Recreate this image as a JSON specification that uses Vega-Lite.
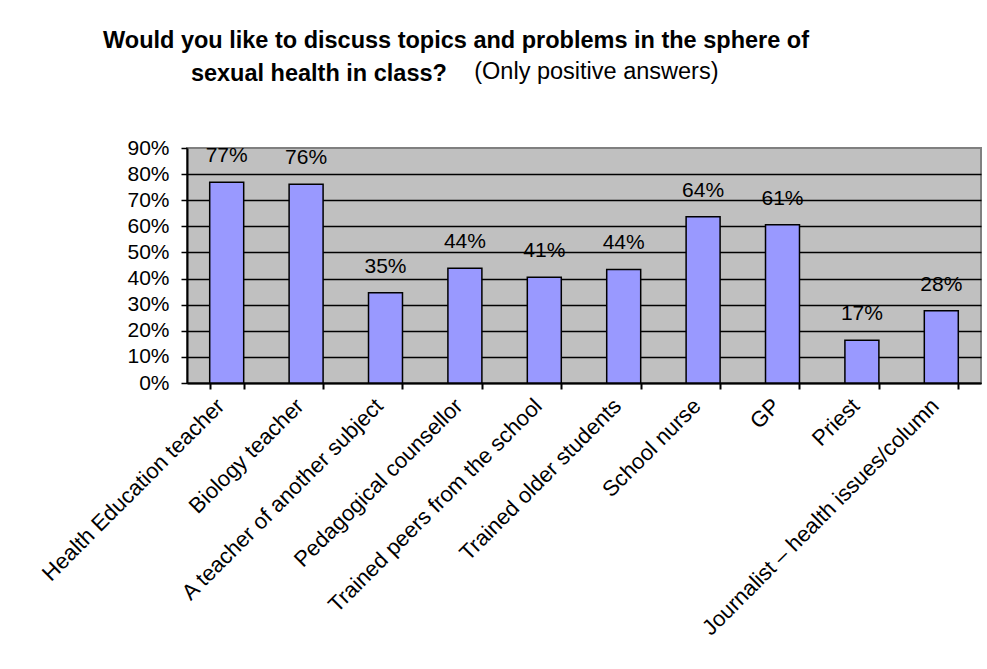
{
  "$schema": "https://vega.github.io/schema/vega-lite/v6.json",
  "width": 794,
  "height": 235,
  "autosize": {"type": "none"},
  "padding": {"left": 187, "top": 148, "right": 6, "bottom": 286},
  "background": "white",
  "title": {
    "text": ["Would you like to discuss topics and problems in the sphere of", "sexual health in class?\u00a0\u00a0\u00a0\u00a0\u00a0\u00a0\u00a0\u00a0\u00a0\u00a0\u00a0\u00a0\u00a0\u00a0\u00a0\u00a0\u00a0\u00a0\u00a0\u00a0\u00a0\u00a0\u00a0\u00a0\u00a0\u00a0\u00a0\u00a0\u00a0\u00a0\u00a0\u00a0\u00a0\u00a0\u00a0\u00a0\u00a0\u00a0\u00a0\u00a0\u00a0\u00a0\u200b"],
    "subtitle": "\u200b\u00a0\u00a0\u00a0\u00a0\u00a0\u00a0\u00a0\u00a0\u00a0\u00a0\u00a0\u00a0\u00a0\u00a0\u00a0\u00a0\u00a0\u00a0\u00a0\u00a0\u00a0\u00a0\u00a0\u00a0\u00a0\u00a0\u00a0\u00a0\u00a0\u00a0\u00a0\u00a0\u00a0\u00a0\u00a0\u00a0\u00a0\u00a0\u00a0\u00a0\u00a0\u00a0\u00a0(Only positive answers)",
    "anchor": "middle",
    "frame": "group",
    "dx": -128,
    "offset": 52,
    "font": "Liberation Sans",
    "fontSize": 23.5,
    "fontWeight": "bold",
    "color": "black",
    "lineHeight": 33,
    "subtitleFont": "Liberation Sans",
    "subtitleFontSize": 23.5,
    "subtitleFontWeight": "normal",
    "subtitleColor": "black",
    "subtitlePadding": -25
  },
  "data": {
    "values": [
      {"role": "Health Education teacher", "value": 0.769, "label": "77%"},
      {"role": "Biology teacher", "value": 0.761, "label": "76%"},
      {"role": "A teacher of another subject", "value": 0.346, "label": "35%"},
      {"role": "Pedagogical counsellor", "value": 0.439, "label": "44%"},
      {"role": "Trained peers from the school", "value": 0.405, "label": "41%"},
      {"role": "Trained older students", "value": 0.435, "label": "44%"},
      {"role": "School nurse", "value": 0.637, "label": "64%"},
      {"role": "GP", "value": 0.606, "label": "61%"},
      {"role": "Priest", "value": 0.164, "label": "17%"},
      {"role": "Journalist – health issues/column", "value": 0.277, "label": "28%"}
    ]
  },
  "encoding": {
    "y": {
      "field": "value",
      "type": "quantitative",
      "scale": {"domain": [0, 0.9], "nice": false, "zero": true},
      "axis": {
        "title": null,
        "values": [0, 0.1, 0.2, 0.3, 0.4, 0.5, 0.6, 0.7, 0.8, 0.9],
        "format": ".0%",
        "labelFont": "Liberation Sans",
        "labelFontSize": 21,
        "labelColor": "black",
        "labelPadding": 12,
        "tickSize": 6,
        "tickColor": "black",
        "tickWidth": 1.5,
        "domainColor": "black",
        "domainWidth": 2,
        "grid": true,
        "gridColor": {"condition": {"test": "datum.value >= 0.85", "value": "transparent"}, "value": "black"},
        "gridWidth": 1.5,
        "gridOpacity": 1
      }
    }
  },
  "layer": [
    {
      "mark": {"type": "bar", "fill": "#9999FF", "stroke": "black", "strokeWidth": 1.5},
      "encoding": {
        "x": {
          "field": "role",
          "type": "nominal",
          "sort": null,
          "scale": {"paddingInner": 0.572, "paddingOuter": 0.286},
          "axis": {
            "title": null,
            "orient": "bottom",
            "ticks": false,
            "domain": true,
            "domainColor": "black",
            "domainWidth": 2,
            "labelAngle": -45,
            "labelAlign": "right",
            "labelBaseline": "middle",
            "labelFont": "Liberation Sans",
            "labelFontSize": 22,
            "labelColor": "black",
            "labelPadding": 19,
            "labelOffset": -6,
            "labelLimit": 1000,
            "labelOverlap": false,
            "labelBound": false
          }
        }
      }
    },
    {
      "mark": {"type": "text", "font": "Liberation Sans", "fontSize": 21, "color": "black", "baseline": "middle", "dy": -26},
      "encoding": {
        "x": {
          "field": "role",
          "type": "nominal",
          "sort": null,
          "axis": {
            "title": null,
            "orient": "bottom",
            "labels": false,
            "domain": false,
            "ticks": true,
            "tickBand": "extent",
            "tickSize": 6,
            "tickColor": "black",
            "tickWidth": 2,
            "grid": false
          }
        },
        "text": {"field": "label"}
      }
    }
  ],
  "resolve": {"axis": {"x": "independent"}},
  "config": {
    "view": {"fill": "#C0C0C0", "stroke": "#808080", "strokeWidth": 2}
  }
}
